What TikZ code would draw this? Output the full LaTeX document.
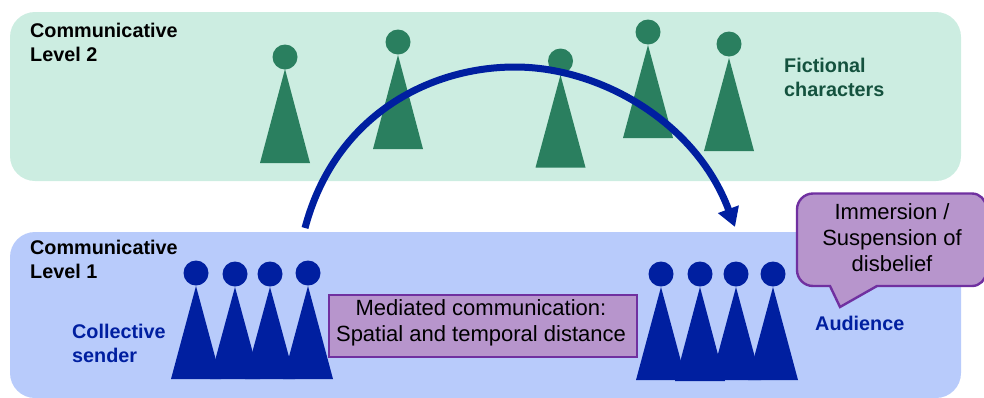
\documentclass[tikz,border=0pt]{standalone}
\usepackage{fontspec}
\setmainfont{Liberation Sans}
\usetikzlibrary{arrows.meta}
\definecolor{greenpanel}{HTML}{CCEDE1}
\definecolor{bluepanel}{HTML}{B8CBFB}
\definecolor{greenfig}{HTML}{2A7F5F}
\definecolor{bluefig}{HTML}{001FA0}
\definecolor{purplefill}{HTML}{B795CC}
\definecolor{purpleline}{HTML}{7030A0}
\definecolor{greentext}{HTML}{14523E}
\tikzset{
  x=1pt,y=-1pt,
  panel/.style={rounded corners=25pt,minimum width=951pt,inner sep=0pt,outer sep=0pt,anchor=north west},
  headg/.style={circle,fill=greenfig,minimum size=25pt,inner sep=0pt,outer sep=0pt},
  headb/.style={circle,fill=bluefig,minimum size=25pt,inner sep=0pt,outer sep=0pt},
  lab/.style={font=\fontsize{19.8}{24.3}\selectfont\bfseries,align=left,anchor=north west,inner sep=0pt},
  blk/.style={font=\fontsize{22}{26}\selectfont,align=center,text=black,inner sep=0pt}
}
\newcommand{\figg}[5]{% head x, head y, tip y, base y, name
  \fill[greenfig] (#1-25,#4) -- (#1,#3) -- (#1+25,#4) -- cycle;
  \node[headg] (#5) at (#1,#2) {};
}
\newcommand{\figb}[5]{%
  \fill[bluefig] (#1-25,#4) -- (#1,#3) -- (#1+25,#4) -- cycle;
  \node[headb] (#5) at (#1,#2) {};
}
\begin{document}
\begin{tikzpicture}
\useasboundingbox (0,0) rectangle (984,397);
\node[panel,fill=greenpanel,minimum height=169pt] (top) at (10,12) {};
\begin{scope}
\clip (0,0) rectangle (984,397);
\node[panel,fill=bluepanel,minimum height=166pt] (bottom) at (10,232) {};
\end{scope}
\node[lab] (l2) at (30,22.5) {Communicative\\Level 2};
\node[lab] (l1) at (30,240) {Communicative\\Level 1};
\node[lab,text=greentext] (fc) at (784,58) {Fictional\\characters};
\node[lab,text=bluefig] (cs) at (72,324) {Collective\\sender};
\node[lab,text=bluefig,anchor=west] (au) at (815,323) {Audience};
\figg{285}{57}{69}{163}{g1}
\figg{398}{42}{55}{149}{g2}
\figg{560.5}{61}{75}{167.5}{g3}
\figg{648}{32}{45}{138}{g4}
\figg{729}{44}{58}{151}{g5}
\figb{196}{273}{286}{379}{s1}
\figb{235}{274}{287}{379}{s2}
\figb{270}{274}{287}{379}{s3}
\figb{308}{273}{286}{379}{s4}
\figb{661}{274}{287}{380}{a1}
\figb{700}{274}{287}{381}{a2}
\figb{736}{274}{287}{380}{a3}
\figb{773}{274}{287}{380}{a4}
\coordinate (arcstart) at (305,228);
\coordinate (arcend) at (735,227);
\draw[bluefig,line width=7pt,-{Triangle[length=19pt,width=21pt]}] (arcstart) .. controls (335,115) and (430,67) .. (515,67) .. controls (600,67) and (696,122) .. (arcend);
\node[draw=purpleline,fill=purplefill,line width=2.4pt,minimum width=308pt,minimum height=62.5pt,anchor=north west,inner sep=0pt] (med) at (328,293.5) {};
\node[blk] (medtext) at (481,322.5) {Mediated communication:\\Spatial and temporal distance};
\draw[purpleline,line width=2.4pt,fill=purplefill]
  (813,193.5) -- (972,193.5) arc[start angle=-90,end angle=0,radius=14] -- (986,272)
  arc[start angle=0,end angle=90,radius=14] -- (877,286) -- (840,307) -- (830,286) -- (813,286)
  arc[start angle=90,end angle=180,radius=16] -- (797,209.5)
  arc[start angle=180,end angle=270,radius=16] -- cycle;
\node[blk] (imm) at (892,238) {Immersion /\\Suspension of\\disbelief};
\end{tikzpicture}
\end{document}
